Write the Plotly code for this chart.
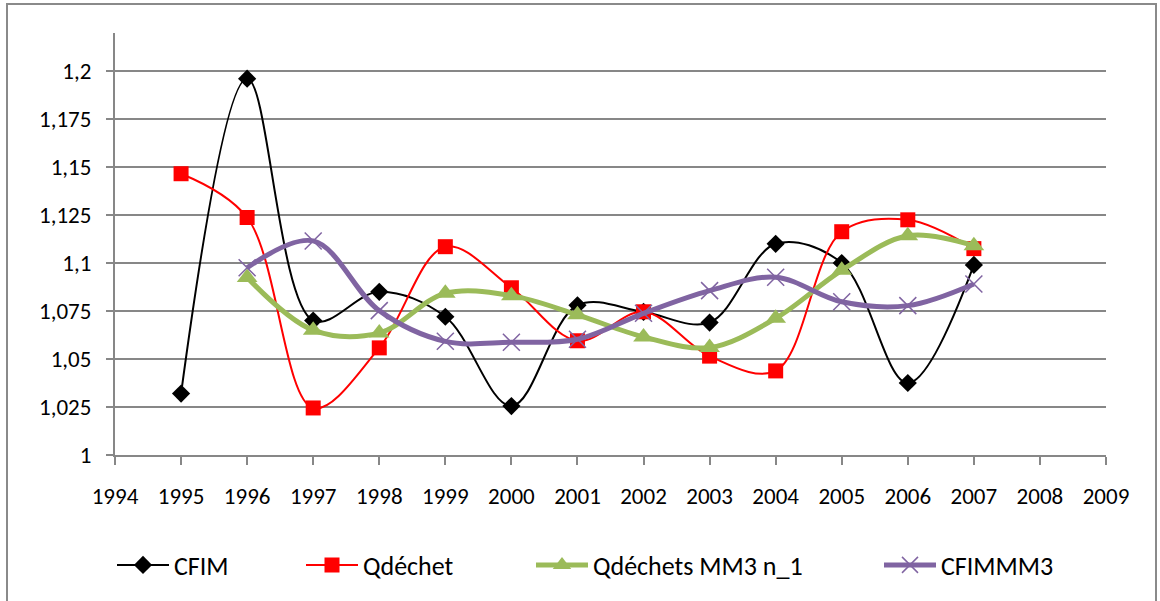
import plotly.graph_objects as go

years = list(range(1995, 2008))
years_mm = list(range(1996, 2008))
cfim = [1.032, 1.196, 1.070, 1.085, 1.072, 1.0255, 1.078, 1.0745, 1.069, 1.110, 1.100, 1.0375, 1.099]
qdechet = [1.1465, 1.1237, 1.0245, 1.0558, 1.1085, 1.0871, 1.0595, 1.0746, 1.0515, 1.0438, 1.1163, 1.1225, 1.1075]
qdechets_mm3 = [1.0925, 1.0650, 1.0636, 1.0842, 1.0830, 1.0730, 1.0615, 1.0560, 1.0712, 1.0962, 1.1142, 1.1090]
cfimmm3 = [1.0975, 1.1115, 1.0752, 1.0592, 1.0587, 1.0603, 1.0738, 1.0856, 1.0926, 1.0798, 1.0778, 1.0891]

y_tickvals = [1, 1.025, 1.05, 1.075, 1.1, 1.125, 1.15, 1.175, 1.2]
y_ticktext = ["1", "1,025", "1,05", "1,075", "1,1", "1,125", "1,15", "1,175", "1,2"]
x_tickvals = list(range(1994, 2010))

W, H = 1160, 601
L, R, T, B = 115, 54, 33, 146
pw, ph = W - L - R, H - T - B

FONT = "Carlito, Calibri, Lato, sans-serif"
GRID = "#878787"

fig = go.Figure()
fig.add_trace(go.Scatter(x=years, y=cfim, name="CFIM", mode="lines+markers",
                         line=dict(color="black", width=2, shape="spline", smoothing=1),
                         marker=dict(symbol="diamond", size=14, color="black"), legend="legend"))
fig.add_trace(go.Scatter(x=years, y=qdechet, name="Qdéchet", mode="lines+markers",
                         line=dict(color="#FF0000", width=2, shape="spline", smoothing=1),
                         marker=dict(symbol="square", size=15, color="#FF0000"), legend="legend2"))
fig.add_trace(go.Scatter(x=years_mm, y=qdechets_mm3, name="Qdéchets MM3 n_1", mode="lines+markers",
                         line=dict(color="#9BBB59", width=5, shape="spline", smoothing=1),
                         marker=dict(symbol="triangle-up", size=18, color="#9BBB59"), legend="legend3"))
fig.add_trace(go.Scatter(x=years_mm, y=cfimmm3, name="CFIMMM3", mode="lines+markers",
                         line=dict(color="#8064A2", width=5, shape="spline", smoothing=1),
                         marker=dict(symbol="x-thin-open", size=17, line=dict(color="#8064A2", width=1.5)),
                         legend="legend4"))

def leg(px):
    return dict(x=px / W, y=1 - 565 / H, xref="container", yref="container",
                xanchor="left", yanchor="middle", orientation="h", itemwidth=52,
                font=dict(family=FONT, size=26, color="black"), bgcolor="rgba(0,0,0,0)",
                itemclick=False)

fig.update_layout(
    width=W, height=H,
    margin=dict(l=L, r=R, t=T, b=B),
    paper_bgcolor="white", plot_bgcolor="white",
    font=dict(family=FONT, size=23, color="black"),
    showlegend=True,
    legend=leg(112), legend2=leg(301), legend3=leg(531), legend4=leg(879),
    xaxis=dict(range=[1994, 2009], tickvals=x_tickvals, showgrid=False, zeroline=False,
               showline=True, linecolor=GRID, linewidth=2, ticks="outside", ticklen=8,
               tickcolor=GRID, tickwidth=2, tickfont=dict(family=FONT, size=23),
               ticklabelstandoff=11),
    yaxis=dict(range=[1, 1.2198], tickvals=y_tickvals, ticktext=y_ticktext, showgrid=True,
               gridcolor=GRID, gridwidth=2, zeroline=False, showline=True, linecolor=GRID,
               linewidth=2, ticks="outside", ticklen=7, tickcolor=GRID, tickwidth=2,
               tickfont=dict(family=FONT, size=23), ticklabelstandoff=10),
)

# outer chart frame
fig.add_shape(type="rect", xref="paper", yref="paper",
              x0=(7 - L) / pw, x1=(1156 - L) / pw,
              y0=-(612 - (H - B)) / ph, y1=1 + (T - 4) / ph,
              line=dict(color="#8A8A8A", width=2), fillcolor="rgba(0,0,0,0)", layer="below")

fig.write_html("out.html", post_script="document.body.style.margin='0';",
               config={"displayModeBar": False})
